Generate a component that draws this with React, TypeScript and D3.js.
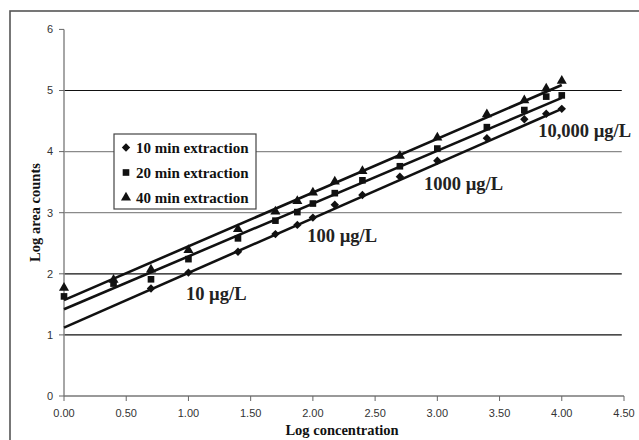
import React from "react";
import * as d3 from "d3";

const seriesNames = ["10 min extraction", "20 min extraction", "40 min extraction"];
const seriesSymbols = ["diamond", "square", "triangle"];

const xTen = [0.699, 1.0, 1.398, 1.699, 1.875, 2.0, 2.176, 2.398, 2.699, 3.0, 3.398, 3.699, 3.875, 4.0];
const yTen = [1.76, 2.02, 2.36, 2.65, 2.8, 2.92, 3.13, 3.29, 3.59, 3.85, 4.22, 4.53, 4.62, 4.7];

const xTwenty = [0, 0.398, 0.699, 1.0, 1.398, 1.699, 1.875, 2.0, 2.176, 2.398, 2.699, 3.0, 3.398, 3.699, 3.875, 4.0];
const yTwenty = [1.63, 1.84, 1.91, 2.24, 2.58, 2.87, 3.01, 3.15, 3.32, 3.53, 3.76, 4.05, 4.4, 4.68, 4.9, 4.92];

const xForty = [0, 0.398, 0.699, 1.0, 1.398, 1.699, 1.875, 2.0, 2.176, 2.398, 2.699, 3.0, 3.398, 3.699, 3.875, 4.0];
const yForty = [1.77, 1.9, 2.07, 2.39, 2.73, 3.02, 3.19, 3.33, 3.51, 3.68, 3.93, 4.23, 4.61, 4.84, 5.03, 5.16];

const trendSlopes = [0.895, 0.865, 0.88];
const trendIntercepts = [1.12, 1.42, 1.57];
const trendRange = [0, 4.0];

const xTicks = [0, 0.5, 1.0, 1.5, 2.0, 2.5, 3.0, 3.5, 4.0, 4.5];
const yTicks = [0, 1, 2, 3, 4, 5, 6];
const gridValues = [1, 2, 3, 4, 5];

const annotationTexts = ["10 µg/L", "100 µg/L", "1000 µg/L", "10,000 µg/L"];
const annotationX = [0.98, 1.955, 2.893, 3.81];
const annotationY = [1.57, 2.52, 3.37, 4.24];

const W = 639;
const H = 440;
const M = { left: 64, right: 15, top: 29.4, bottom: 44 };

const serif = "'Liberation Serif', 'Times New Roman', serif";
const sans = "'Liberation Sans', Arial, sans-serif";

const gridColor: Record<number, string> = { 1: "#111", 2: "#111", 3: "#8a8a8a", 4: "#8a8a8a", 5: "#111" };

function symbolPath(kind: string) {
  if (kind === "diamond") {
    const p = d3.path();
    const r = 4.2;
    p.moveTo(0, -r);
    p.lineTo(r, 0);
    p.lineTo(0, r);
    p.lineTo(-r, 0);
    p.closePath();
    return p.toString();
  }
  if (kind === "square") return d3.symbol(d3.symbolSquare, 44)();
  return d3.symbol(d3.symbolTriangle, 44)();
}

export default function App() {
  const x = d3.scaleLinear().domain([0, 4.5]).range([M.left, W - M.right]);
  const y = d3.scaleLinear().domain([0, 6]).range([H - M.bottom, M.top]);

  const series = [
    { xs: xTen, ys: yTen },
    { xs: xTwenty, ys: yTwenty },
    { xs: xForty, ys: yForty },
  ];

  const line = d3
    .line<[number, number]>()
    .x((d) => x(d[0]))
    .y((d) => y(d[1]));

  const [x0, x1] = x.range();
  const [y0] = y.range();

  return (
    <svg
      width={W}
      height={H}
      style={{ position: "absolute", left: 0, top: 0, background: "#fff" }}
    >
      <rect x={0} y={0} width={W} height={H} fill="#fff" />
      {/* outer frame */}
      <rect x={10} y={11} width={W + 20} height={H + 20} fill="none" stroke="#555" strokeWidth={1.6} />

      {/* gridlines */}
      {gridValues.map((v) => (
        <line
          key={"g" + v}
          x1={x0}
          x2={x0 + (x1 - x0) * 0.996}
          y1={y(v)}
          y2={y(v)}
          stroke={gridColor[v]}
          strokeWidth={1.2}
        />
      ))}

      {/* axes */}
      <line x1={x0} x2={x0} y1={y(0)} y2={y(6)} stroke="#888" strokeWidth={1.5} />
      <line x1={x0} x2={x1} y1={y0} y2={y0} stroke="#777" strokeWidth={1.3} />
      {yTicks.map((t) => (
        <g key={"yt" + t}>
          <line x1={x0 - 5} x2={x0} y1={y(t)} y2={y(t)} stroke="#666" strokeWidth={1} />
          <text
            x={x0 - 11}
            y={y(t)}
            dy="0.35em"
            textAnchor="end"
            fontFamily={sans}
            fontSize={11}
            fill="#333"
          >
            {t}
          </text>
        </g>
      ))}
      {xTicks.map((t) => (
        <g key={"xt" + t}>
          <line x1={x(t)} x2={x(t)} y1={y0} y2={y0 + 5} stroke="#666" strokeWidth={1} />
          <text
            x={x(t)}
            y={y0 + 21}
            textAnchor="middle"
            fontFamily={sans}
            fontSize={11}
            fill="#333"
          >
            {t.toFixed(2)}
          </text>
        </g>
      ))}

      {/* axis titles */}
      <text
        x={(x0 + x1) / 2 - 2}
        y={435}
        textAnchor="middle"
        fontFamily={serif}
        fontWeight="bold"
        fontSize={14.5}
        fill="#111"
      >
        Log concentration
      </text>
      <text
        transform={`translate(39.5, ${212.5}) rotate(-90)`}
        textAnchor="middle"
        fontFamily={serif}
        fontWeight="bold"
        fontSize={14.5}
        fill="#111"
      >
        Log area counts
      </text>

      {/* trend lines */}
      {trendSlopes.map((s, i) => (
        <path
          key={"tr" + i}
          d={line(trendRange.map((xv) => [xv, trendIntercepts[i] + s * xv]) as [number, number][]) || ""}
          fill="none"
          stroke="#111"
          strokeWidth={2.6}
        />
      ))}

      {/* markers */}
      {series.map((s, i) =>
        s.xs.map((xv, j) => (
          <path
            key={"m" + i + "-" + j}
            d={symbolPath(seriesSymbols[i]) || ""}
            transform={`translate(${x(xv)},${y(s.ys[j])})`}
            fill="#111"
          />
        ))
      )}

      {/* annotations */}
      {annotationTexts.map((t, i) => (
        <text
          key={"a" + i}
          x={x(annotationX[i])}
          y={y(annotationY[i])}
          fontFamily={serif}
          fontWeight="bold"
          fontSize={18.5}
          fill="#222"
        >
          {t}
        </text>
      ))}

      {/* legend */}
      <g>
        <rect x={114} y={134} width={142} height={75} fill="#fff" stroke="#444" strokeWidth={1.2} />
        {seriesNames.map((n, i) => (
          <g key={"l" + i} transform={`translate(0, ${147.5 + i * 25})`}>
            <path d={symbolPath(seriesSymbols[i]) || ""} transform="translate(126,0)" fill="#111" />
            <text
              x={136}
              y={5.5}
              fontFamily={serif}
              fontWeight="bold"
              fontSize={15}
              fill="#111"
            >
              {n}
            </text>
          </g>
        ))}
      </g>
    </svg>
  );
}
